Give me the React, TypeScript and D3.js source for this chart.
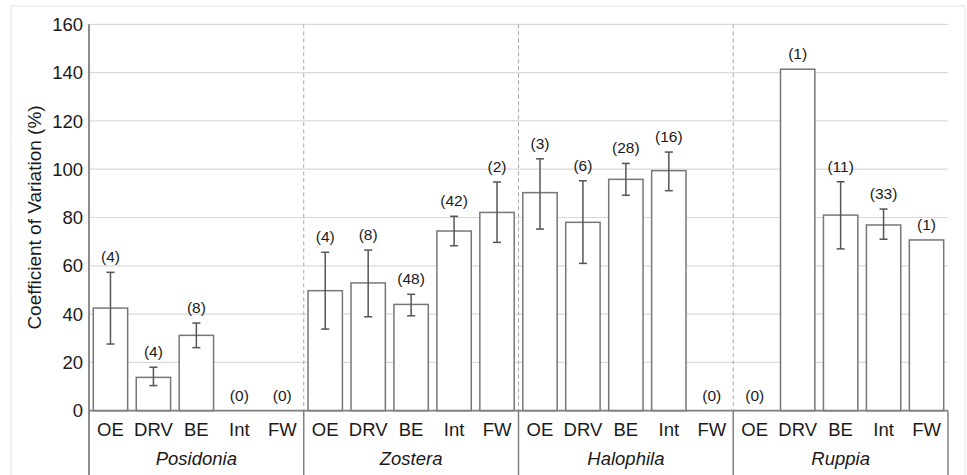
import React from "react";
import * as d3 from "d3";

// genera and sampling categories
const groups = ["Posidonia", "Zostera", "Halophila", "Ruppia"];
const categories = ["OE", "DRV", "BE", "Int", "FW"];

// coefficient of variation (%) per genus, in category order
const cvPosidonia = [42.5, 13.8, 31.2, 0, 0];
const cvZostera = [49.7, 52.9, 44.0, 74.4, 82.1];
const cvHalophila = [90.3, 78.0, 95.8, 99.4, 0];
const cvRuppia = [0, 141.4, 81.0, 76.9, 70.7];

// error bar ranges [low, high], null when there is none
const errPosidonia = [[27.6, 57.3], [10.4, 18.0], [26.1, 36.3], null, null];
const errZostera = [[33.8, 65.6], [38.9, 66.5], [39.3, 48.2], [68.3, 80.5], [69.7, 94.7]];
const errHalophila = [[75.2, 104.3], [61.0, 95.2], [89.2, 102.4], [91.1, 107.1], null];
const errRuppia = [null, null, [67.0, 94.8], [71.0, 83.5], null];

// sample sizes shown above the bars
const nPosidonia = [4, 4, 8, 0, 0];
const nZostera = [4, 8, 48, 42, 2];
const nHalophila = [3, 6, 28, 16, 0];
const nRuppia = [0, 1, 11, 33, 1];

const yTicks = [0, 20, 40, 60, 80, 100, 120, 140, 160];

const values = [cvPosidonia, cvZostera, cvHalophila, cvRuppia];
const errors = [errPosidonia, errZostera, errHalophila, errRuppia];
const counts = [nPosidonia, nZostera, nHalophila, nRuppia];

const W = 967;
const H = 475;
const margin = { top: 24.3, right: 19, bottom: 64.3, left: 89 };
const font = "'Liberation Sans', Arial, sans-serif";

export default function App() {
  const x0 = d3
    .scaleBand<string>()
    .domain(groups)
    .range([margin.left, W - margin.right])
    .padding(0);
  const x1 = d3
    .scaleBand<string>()
    .domain(categories)
    .range([0, x0.bandwidth()])
    .paddingInner(0.2)
    .paddingOuter(0.1);
  const y = d3
    .scaleLinear()
    .domain([0, 160])
    .range([H - margin.bottom, margin.top]);

  const x0Start = margin.left;
  const x0End = W - margin.right;
  const y0 = y(0);
  const bw = x1.bandwidth();
  const cap = 4;

  return (
    <svg
      width={W}
      height={H}
      style={{ position: "absolute", left: 0, top: 0, background: "#fff" }}
      fontFamily={font}
    >
      <rect x={11} y={6} width={954} height={480} fill="#fff" stroke="#e2e2e2" />

      {/* grid */}
      {yTicks.map((t) => (
        <line key={"g" + t} x1={x0Start} x2={x0End} y1={y(t)} y2={y(t)} stroke="#d9d9d9" strokeWidth={1.2} />
      ))}

      {/* dashed group separators */}
      {groups.slice(1).map((g) => (
        <line
          key={"d" + g}
          x1={x0(g)!}
          x2={x0(g)!}
          y1={y(160)}
          y2={y0}
          stroke="#a8a8a8"
          strokeDasharray="4,3"
        />
      ))}

      {/* y tick labels */}
      {yTicks.map((t) => (
        <text key={"t" + t} x={83} y={y(t)} dy="0.36em" textAnchor="end" fontSize={18.5} fill="#1a1a1a">
          {t}
        </text>
      ))}

      <text
        transform={`translate(41,${(y(0) + y(160)) / 2}) rotate(-90)`}
        textAnchor="middle"
        fontSize={19}
        fill="#1a1a1a"
      >
        Coefficient of Variation (%)
      </text>

      {/* bars */}
      {groups.map((g, gi) =>
        categories.map((c, ci) => {
          const v = values[gi][ci];
          const e = errors[gi][ci];
          const n = counts[gi][ci];
          const bx = x0(g)! + x1(c)!;
          const cx = bx + bw / 2;
          const top = e ? y(e[1]) : y(v);
          return (
            <g key={g + c}>
              {v > 0 && (
                <rect x={bx} y={y(v)} width={bw} height={y0 - y(v)} fill="#fff" stroke="#777" strokeWidth={1.5} />
              )}
              {e && (
                <g stroke="#555" strokeWidth={1.5}>
                  <line x1={cx} x2={cx} y1={y(e[0])} y2={y(e[1])} />
                  <line x1={cx - cap} x2={cx + cap} y1={y(e[0])} y2={y(e[0])} />
                  <line x1={cx - cap} x2={cx + cap} y1={y(e[1])} y2={y(e[1])} />
                </g>
              )}
              <text x={cx} y={top - 10} textAnchor="middle" fontSize={15.5} fill="#1a1a1a">
                ({n})
              </text>
              <text x={cx} y={435.5} textAnchor="middle" fontSize={18.5} fill="#1a1a1a">
                {c}
              </text>
            </g>
          );
        })
      )}

      {/* axes */}
      <line x1={x0Start} x2={x0Start} y1={y(160)} y2={H} stroke="#808080" strokeWidth={1.8} />
      <line x1={x0Start} x2={x0End} y1={y0} y2={y0} stroke="#808080" strokeWidth={1.8} />
      {groups.map((g) => (
        <line key={"s" + g} x1={x0(g)! + x0.bandwidth()} x2={x0(g)! + x0.bandwidth()} y1={y0} y2={H} stroke="#808080" strokeWidth={1.5} />
      ))}
      {groups.map((g) => (
        <text
          key={"l" + g}
          x={x0(g)! + x0.bandwidth() / 2}
          y={465}
          textAnchor="middle"
          fontSize={18.5}
          fontStyle="italic"
          fill="#1a1a1a"
        >
          {g}
        </text>
      ))}
    </svg>
  );
}
